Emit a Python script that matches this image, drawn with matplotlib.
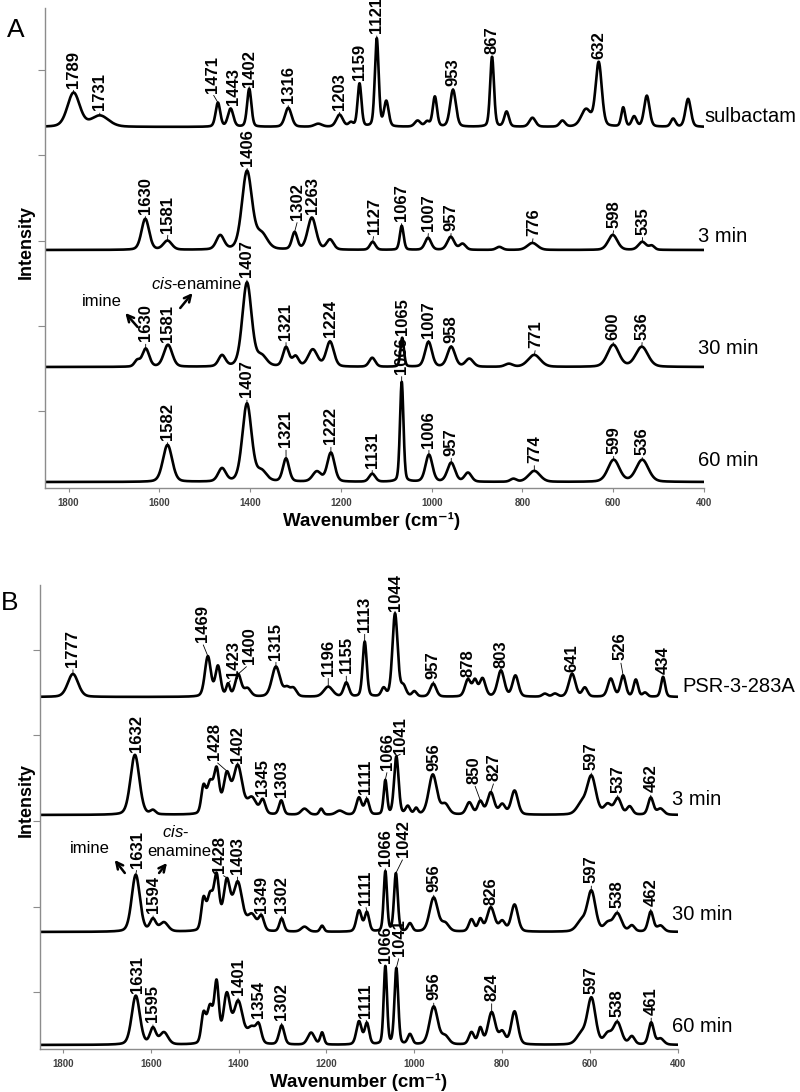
import numpy as np
import matplotlib
matplotlib.use("Agg")
import matplotlib.pyplot as plt

plt.rcParams['font.family'] = ['Liberation Sans', 'DejaVu Sans']
plt.rcParams['mathtext.fontset'] = 'custom'
plt.rcParams['mathtext.rm'] = 'Liberation Sans'
plt.rcParams['mathtext.it'] = 'Liberation Sans:italic'

# Raman bands: (position cm-1, height, FWHM cm-1)
# heights in plot units above the baseline of each trace
sulb_base = 361
sulb_peaks = [(1789, 34, 32), (1731, 11, 45), (1471, 24, 12), (1443, 18, 14), (1402, 38, 11),
              (1316, 19, 17), (1250, 3, 20), (1203, 12, 17), (1178, 4, 12), (1159, 43, 10),
              (1121, 88, 10), (1100, 25, 12), (1031, 6, 15), (1010, 5, 12), (993, 30, 11),
              (953, 37, 15), (867, 70, 10), (835, 15, 12), (778, 9, 16), (712, 6, 14),
              (660, 17, 25), (632, 64, 16), (578, 19, 10), (554, 10, 12), (526, 31, 14),
              (468, 8, 12), (435, 28, 14)]
a3_base = 238
a3_peaks = [(1631, 31, 20), (1582, 9, 22), (1466, 14, 20), (1407, 78, 26), (1375, 15, 30),
            (1302, 17, 14), (1264, 32, 22), (1224, 10, 18), (1130, 8, 14), (1066, 24, 10),
            (1008, 12, 16), (958, 13, 18), (932, 6, 16), (851, 3, 16), (778, 7, 26),
            (601, 15, 24), (536, 8, 20), (515, 4, 14)]
a30_base = 121
a30_peaks = [(1649, 6, 14), (1630, 18, 18), (1581, 22, 22), (1462, 11, 18), (1407, 84, 24),
             (1375, 10, 26), (1321, 19, 16), (1300, 10, 16), (1262, 17, 24), (1224, 25, 20),
             (1131, 9, 16), (1065, 29, 9), (1007, 25, 18), (957, 20, 20), (917, 8, 20),
             (830, 3, 20), (774, 12, 32), (600, 22, 30), (537, 20, 32)]
a60_base = 6
a60_peaks = [(1582, 37, 24), (1462, 13, 20), (1407, 78, 24), (1375, 10, 26), (1321, 23, 16),
             (1253, 10, 22), (1222, 29, 19), (1131, 8, 16), (1066, 100, 9), (1006, 27, 18),
             (957, 19, 20), (920, 9, 18), (820, 3, 16), (774, 11, 30), (599, 22, 30),
             (536, 22, 32)]

psr_base = 352
psr_peaks = [(1777, 23, 28), (1470, 40, 16), (1447, 30, 14), (1424, 12, 10), (1401, 22, 16),
             (1380, 8, 18), (1315, 30, 22), (1290, 8, 16), (1275, 8, 16), (1196, 10, 24),
             (1155, 14, 14), (1113, 55, 11), (1070, 8, 12), (1044, 83, 14), (1025, 10, 14),
             (1000, 5, 12), (957, 13, 16), (878, 17, 16), (862, 15, 12), (845, 18, 16),
             (803, 26, 18), (770, 21, 16), (703, 3, 14), (680, 3, 14), (641, 23, 18),
             (612, 9, 14), (553, 18, 16), (525, 21, 14), (496, 17, 12), (475, 4, 12),
             (434, 20, 11)]
b3_base = 234
b3_peaks = [(1636, 60, 24), (1595, 4, 14), (1480, 26, 12), (1465, 30, 16), (1450, 42, 14),
            (1427, 38, 18), (1402, 48, 24), (1370, 16, 24), (1345, 14, 14), (1303, 14, 12),
            (1250, 6, 18), (1212, 6, 10), (1170, 4, 20), (1126, 17, 14), (1108, 15, 12),
            (1066, 34, 9), (1041, 58, 12), (1015, 8, 12), (996, 6, 10), (958, 40, 22),
            (930, 10, 20), (875, 12, 16), (850, 13, 14), (826, 22, 18), (800, 10, 16),
            (772, 24, 18), (620, 10, 25), (597, 38, 24), (560, 10, 20), (537, 16, 18),
            (510, 8, 15), (462, 17, 14), (440, 6, 18)]
b30_base = 117
b30_peaks = [(1634, 57, 22), (1595, 12, 16), (1570, 9, 22), (1480, 30, 12), (1465, 34, 16),
             (1450, 52, 14), (1427, 48, 18), (1402, 48, 24), (1370, 16, 24), (1348, 14, 14),
             (1302, 13, 12), (1250, 5, 18), (1210, 6, 10), (1126, 21, 14), (1108, 19, 12),
             (1066, 60, 9), (1042, 58, 10), (1010, 8, 12), (956, 34, 22), (930, 8, 20),
             (870, 12, 14), (850, 12, 12), (826, 24, 20), (800, 10, 16), (772, 27, 18),
             (620, 10, 25), (597, 40, 22), (560, 8, 20), (538, 18, 22), (505, 6, 15),
             (462, 20, 14), (440, 6, 18)]
b60_base = 4
b60_peaks = [(1634, 49, 22), (1595, 16, 16), (1570, 12, 22), (1480, 28, 12), (1465, 36, 16),
             (1450, 58, 12), (1427, 48, 18), (1401, 42, 24), (1370, 16, 24), (1354, 16, 14),
             (1302, 19, 14), (1235, 12, 18), (1210, 12, 10), (1126, 23, 14), (1108, 21, 12),
             (1066, 78, 9), (1041, 76, 10), (1010, 10, 12), (956, 38, 22), (930, 8, 20),
             (870, 12, 14), (850, 16, 12), (824, 32, 20), (800, 12, 16), (772, 33, 18),
             (620, 10, 25), (597, 46, 22), (560, 10, 20), (538, 22, 22), (505, 8, 15),
             (461, 22, 14), (440, 6, 18)]

# peak labels: (value, text shift in cm-1, gap above the peak)
sulb_labels = [(1789, 0, 5), (1731, 0, 5), (1471, 13, 10), (1443, -7, 3), (1402, 0, 2),
               (1316, 0, 5), (1203, 0, 5), (1159, 0, 3), (1121, 0, 5), (953, 0, 4),
               (867, 0, 3), (632, 0, 3)]
a3_labels = [(1630, 0, 5), (1581, 0, 8), (1406, 0, 5), (1302, -7, 12), (1263, 0, 3),
             (1127, 0, 8), (1067, 0, 5), (1007, 0, 7), (957, 0, 6), (776, 0, 7),
             (598, 0, 7), (535, 0, 7)]
a30_labels = [(1630, 0, 7), (1581, 0, 3), (1407, 0, 5), (1321, 0, 7), (1224, 0, 4),
              (1065, 0, 3), (1007, 0, 4), (958, 0, 4), (771, 0, 7), (600, 0, 5), (536, 0, 7)]
a60_labels = [(1582, 0, 5), (1407, 0, 6), (1321, 0, 11), (1222, 0, 8), (1131, 0, 6),
              (1066, 0, 8), (1006, 0, 7), (957, 0, 7), (774, 0, 8), (599, 0, 6), (536, 0, 5)]
psr_labels = [(1777, 0, 7), (1469, 14, 14), (1423, -11, 5), (1400, -25, 10), (1315, 0, 7),
              (1196, 0, 11), (1155, 0, 9), (1113, 0, 10), (1044, 0, 2), (957, 0, 5),
              (878, 0, 2), (803, 0, 2), (641, 0, 2), (526, 5, 15), (434, 0, 3)]
b3_labels = [(1632, 0, 3), (1428, 27, 11), (1402, 0, 2), (1345, 0, 3), (1303, 0, 3),
             (1111, 0, 5), (1066, -5, 10), (1041, -9, 2), (956, 0, 3), (850, 14, 17),
             (827, -9, 11), (597, 0, 5), (537, 0, 5), (462, 0, 5)]
b30_labels = [(1631, 0, 7), (1594, 0, 5), (1428, 16, 5), (1403, 0, 7), (1349, 0, 2),
              (1302, 0, 5), (1111, 0, 7), (1066, 0, 5), (1042, -18, 16), (956, 0, 5),
              (826, 0, 2), (597, 0, 7), (538, 0, 5), (462, 0, 5)]
b60_labels = [(1631, 0, 3), (1595, 0, 5), (1401, 0, 5), (1354, 0, 4), (1302, 0, 5),
              (1111, 0, 5), (1066, 0, 3), (1041, -7, 12), (956, 0, 6), (824, 0, 11),
              (597, 0, 3), (538, 0, 5), (461, 0, 7)]

a_names = ['sulbactam', '3 min', '30 min', '60 min']
b_names = ['PSR-3-283A', '3 min', '30 min', '60 min']

wn = np.linspace(1852, 400, 3000)


def band(c, w):
    g = np.exp(-4 * np.log(2) * (wn - c) ** 2 / w ** 2)
    lor = 1.0 / (1 + ((wn - c) / (w / 2)) ** 2)
    return 0.75 * g + 0.25 * lor


def trace(base, peaks):
    y = np.full_like(wn, float(base))
    for c, h, w in peaks:
        y += h * band(c, w)
    return y


def draw_panel(ax, spectra, names, name_x, name_y, yticks, ylim):
    for (base, peaks, labels) in spectra:
        y = trace(base, peaks)
        ax.plot(wn, y, color='black', lw=1.9, solid_joinstyle='round')
        for val, dx, dy in labels:
            m = (wn > val - 6) & (wn < val + 6)
            i = np.argmax(y[m])
            px, py = wn[m][i], y[m][i]
            ax.annotate(str(val), xy=(px, py), xytext=(val + dx, py + dy),
                        rotation=90, ha='center', va='bottom', fontsize=12,
                        fontweight='bold',
                        arrowprops=dict(arrowstyle='-', lw=0.6, color='black',
                                        shrinkA=0, shrinkB=0, relpos=(0.5, 0)))
    for nm, yy in zip(names, name_y):
        ax.text(name_x, yy, nm, fontsize=14.5, va='center', ha='left', clip_on=False)
    ax.set_xlim(1852, 400)
    ax.set_ylim(*ylim)
    ax.set_xticks([1800, 1600, 1400, 1200, 1000, 800, 600, 400])
    ax.set_yticks(yticks)
    ax.set_yticklabels([])
    for s in ['top', 'right']:
        ax.spines[s].set_visible(False)
    for s in ['left', 'bottom']:
        ax.spines[s].set_color('#8c8c8c')
        ax.spines[s].set_linewidth(1.0)
    ax.tick_params(axis='y', direction='out', length=5, color='#8c8c8c')
    ax.tick_params(axis='x', direction='out', length=3, color='#8c8c8c',
                   labelsize=7, labelcolor='#404040', pad=4)
    for t in ax.get_xticklabels():
        t.set_fontweight('bold')
    ax.set_xlabel('Wavenumber (cm⁻¹)', fontsize=13.5, fontweight='bold', va='center')
    ax.set_ylabel('Intensity', fontsize=13, fontweight='bold', va='center')


fig = plt.figure(figsize=(8, 10.92), dpi=100)
axA = fig.add_axes([0.05625, 0.5531, 0.82375, 0.4396])
axB = fig.add_axes([0.05, 0.0394, 0.7975, 0.4249])

draw_panel(axA, [(sulb_base, sulb_peaks, sulb_labels), (a3_base, a3_peaks, a3_labels),
                 (a30_base, a30_peaks, a30_labels), (a60_base, a60_peaks, a60_labels)],
           a_names, 413, [371, 251, 140, 28], [77, 162, 247, 333, 418], (0, 480))
axA.texts[-4].set_x(398)
axA.xaxis.set_label_coords(0.496, -33 / 480)
axA.yaxis.set_label_coords(-19 / 659, 0.5125)

draw_panel(axB, [(psr_base, psr_peaks, psr_labels), (b3_base, b3_peaks, b3_labels),
                 (b30_base, b30_peaks, b30_labels), (b60_base, b60_peaks, b60_labels)],
           b_names, 414, [362, 249, 134, 22], [57, 142, 228, 314, 399], (0, 464))
axB.texts[-4].set_x(391)
axB.xaxis.set_label_coords(0.5, -33 / 464)
axB.yaxis.set_label_coords(-14 / 638, 0.537)

# imine / cis-enamine callouts
arw = dict(arrowstyle='->', lw=1.8, color='black', mutation_scale=12, shrinkA=0, shrinkB=0)
axA.text(1727, 186, 'imine', fontsize=12, ha='center', va='center')
axA.annotate('', xy=(1675, 175), xytext=(1648, 161), arrowprops=arw)
axA.text(1519, 204, r'$\it{cis}$-enamine', fontsize=12, ha='center', va='center')
axA.annotate('', xy=(1527, 195), xytext=(1554, 180), arrowprops=arw)

axB.text(1739, 200, 'imine', fontsize=12, ha='center', va='center')
axB.annotate('', xy=(1682, 189), xytext=(1659, 176), arrowprops=arw)
axB.text(1543, 217, r'$\it{cis}$-', fontsize=12, ha='center', va='center')
axB.text(1534, 197, 'enamine', fontsize=12, ha='center', va='center')
axB.annotate('', xy=(1563, 186), xytext=(1581, 176), arrowprops=arw)

fig.text(16 / 800, 1 - 30 / 1092, 'A', fontsize=19, ha='center', va='center')
fig.text(10 / 800, 1 - 603 / 1092, 'B', fontsize=19, ha='center', va='center')

fig.savefig('out.png', dpi=100)
